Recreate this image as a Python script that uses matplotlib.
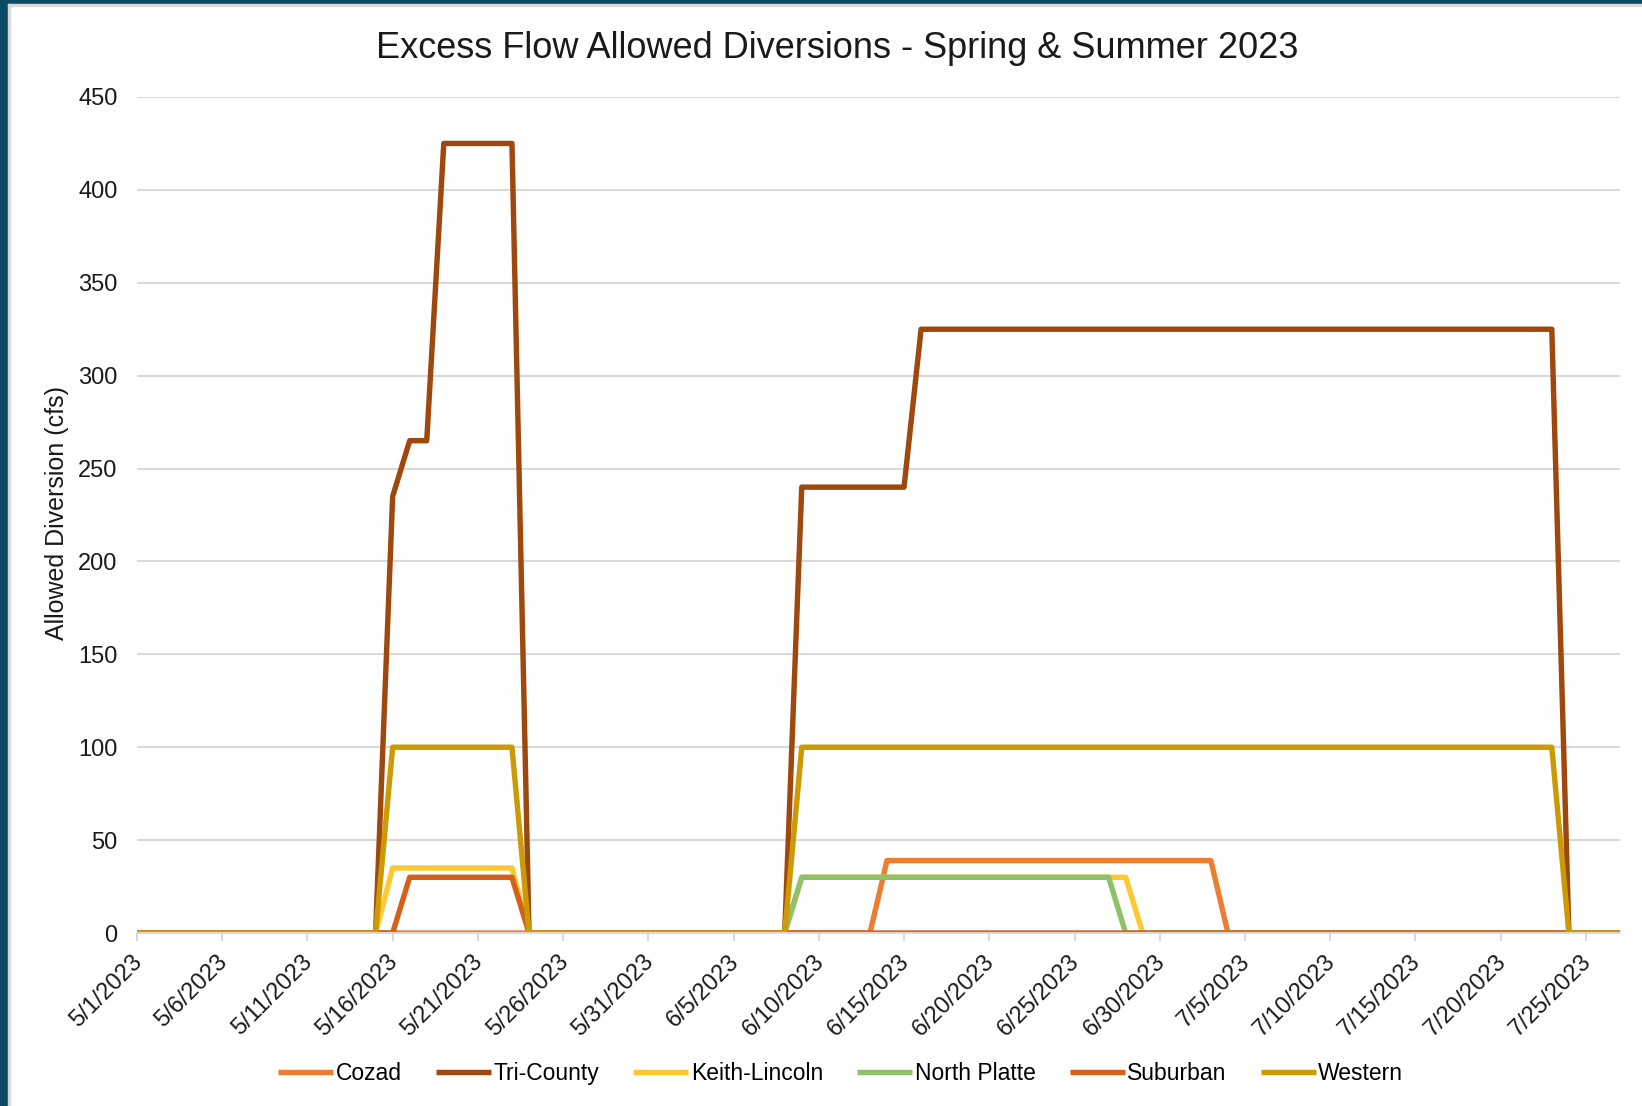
import pandas as pd
import matplotlib
matplotlib.use("Agg")
import matplotlib.pyplot as plt
import matplotlib.dates as mdates
import matplotlib.ticker as mticker
import matplotlib.transforms as mtransforms
from matplotlib.patches import Rectangle

plt.rcParams["font.family"] = ["Liberation Sans", "DejaVu Sans"]

# dates where a series changes value (daily data, flat in between)
cozad_dates = ["2023-05-01", "2023-06-13", "2023-06-14", "2023-07-03", "2023-07-04", "2023-07-27"]
cozad_vals = [0, 0, 39, 39, 0, 0]

tri_dates = ["2023-05-01", "2023-05-15", "2023-05-16", "2023-05-17", "2023-05-18", "2023-05-19",
             "2023-05-23", "2023-05-24", "2023-06-08", "2023-06-09", "2023-06-15", "2023-06-16",
             "2023-07-23", "2023-07-24", "2023-07-27"]
tri_vals = [0, 0, 235, 265, 265, 425, 425, 0, 0, 240, 240, 325, 325, 0, 0]

keith_dates = ["2023-05-01", "2023-05-15", "2023-05-16", "2023-05-23", "2023-05-24", "2023-06-08",
               "2023-06-09", "2023-06-28", "2023-06-29", "2023-07-27"]
keith_vals = [0, 0, 35, 35, 0, 0, 30, 30, 0, 0]

platte_dates = ["2023-06-08", "2023-06-09", "2023-06-27", "2023-06-28", "2023-07-27"]
platte_vals = [0, 30, 30, 0, 0]

suburban_dates = ["2023-05-01", "2023-05-16", "2023-05-17", "2023-05-23", "2023-05-24", "2023-07-27"]
suburban_vals = [0, 0, 30, 30, 0, 0]

western_dates = ["2023-05-01", "2023-05-15", "2023-05-16", "2023-05-23", "2023-05-24", "2023-06-08",
                 "2023-06-09", "2023-07-23", "2023-07-24", "2023-07-27"]
western_vals = [0, 0, 100, 100, 0, 0, 100, 100, 0, 0]

series = [
    ("Cozad", cozad_dates, cozad_vals, "#ED7D31"),
    ("Tri-County", tri_dates, tri_vals, "#9E480E"),
    ("Keith-Lincoln", keith_dates, keith_vals, "#FFC82E"),
    ("North Platte", platte_dates, platte_vals, "#8DC16A"),
    ("Suburban", suburban_dates, suburban_vals, "#D4601A"),
    ("Western", western_dates, western_vals, "#CC9A04"),
]

fig = plt.figure(figsize=(16.42, 11.06), dpi=100)
# dark frame on the left and top edge
fig.patches.append(Rectangle((0, 0), 8 / 1642, 1, transform=fig.transFigure, color="#0B4A63", zorder=0))
fig.patches.append(Rectangle((0, 1 - 4 / 1106), 1, 4 / 1106, transform=fig.transFigure, color="#0B4A63", zorder=0))
fig.patches.append(Rectangle((8 / 1642, 0), 2 / 1642, 1 - 4 / 1106, transform=fig.transFigure, color="#D9D9D9", zorder=0))
fig.patches.append(Rectangle((8 / 1642, 1 - 6 / 1106), 1, 2 / 1106, transform=fig.transFigure, color="#D9D9D9", zorder=0))

ax = fig.add_axes([0.0834, 0.1564, 0.9032, 0.7559])

for name, d, v, c in series:
    ax.plot(pd.to_datetime(d), v, color=c, linewidth=3.9, label=name,
            solid_joinstyle="round", solid_capstyle="butt")

ax.set_ylim(0, 450)
ax.set_yticks(range(0, 451, 50))
ax.set_xlim(pd.Timestamp("2023-05-01"), pd.Timestamp("2023-07-27"))
ax.set_xticks(pd.date_range("2023-05-01", "2023-07-25", freq="5D"))
ax.xaxis.set_major_formatter(mticker.FuncFormatter(
    lambda x, pos: "{0}/{1}/{2}".format(mdates.num2date(x).month, mdates.num2date(x).day, mdates.num2date(x).year)))

ax.grid(axis="y", color="#D9D9D9", linewidth=1.5)
ax.set_axisbelow(True)
for s in ["top", "right", "left"]:
    ax.spines[s].set_visible(False)
ax.spines["bottom"].set_color("#D9D9D9")
ax.spines["bottom"].set_linewidth(1.5)
ax.tick_params(axis="y", length=0, pad=14, labelsize=17, labelcolor="#1a1a1a")
ax.tick_params(axis="x", length=6, width=1.5, color="#D9D9D9", pad=6, labelsize=17, labelcolor="#1a1a1a")
shift = mtransforms.ScaledTranslation(-6 / 100, -1 / 100, fig.dpi_scale_trans)
for lbl in ax.get_xticklabels():
    lbl.set_rotation(45)
    lbl.set_ha("right")
    lbl.set_va("top")
    lbl.set_rotation_mode("anchor")
    lbl.set_transform(lbl.get_transform() + shift)

fig.text(0.510, 0.956, "Excess Flow Allowed Diversions - Spring & Summer 2023",
         ha="center", va="center", fontsize=26, color="#1a1a1a")
fig.text(0.035, 0.536, "Allowed Diversion (cfs)", rotation=90,
         ha="center", va="center", fontsize=18, color="#1a1a1a")

fig.legend(loc="center", bbox_to_anchor=(0.512, 0.029), ncol=6, frameon=False,
           fontsize=16.5, handlelength=2.4, handletextpad=0.1, columnspacing=1.5)

fig.savefig("out.png", dpi=100, facecolor="white")
